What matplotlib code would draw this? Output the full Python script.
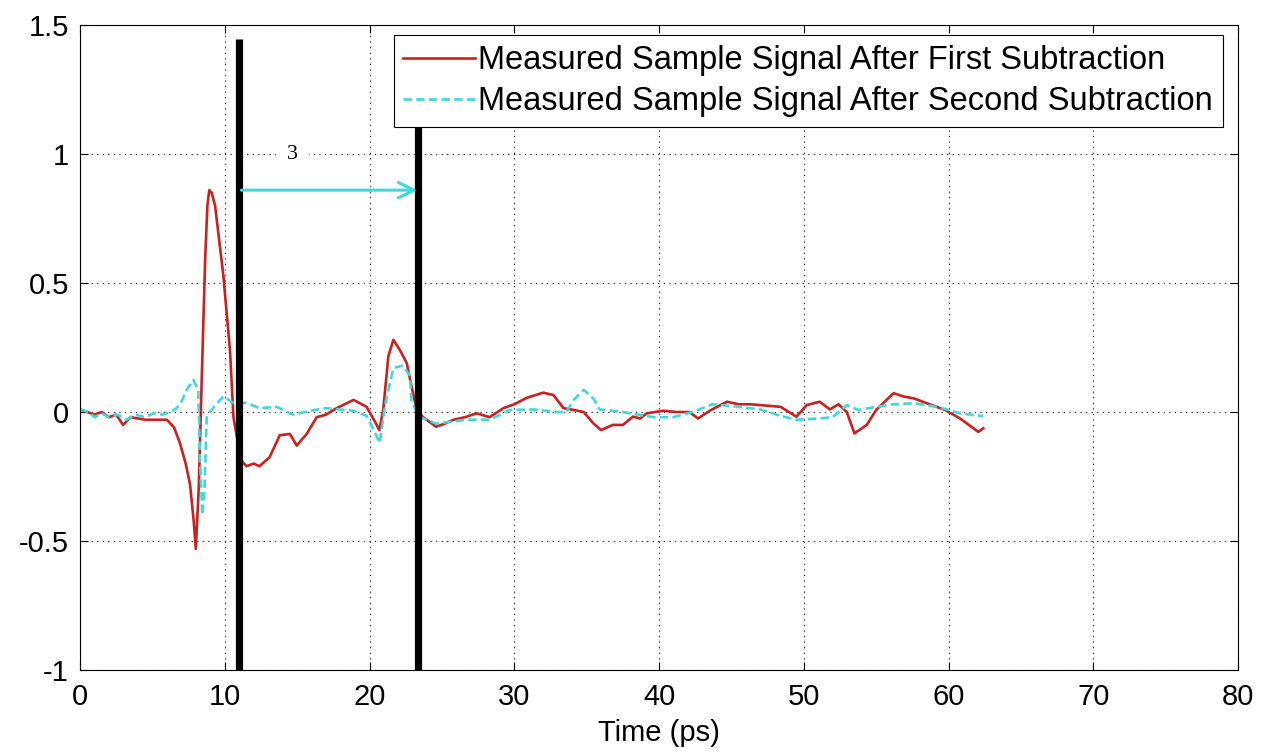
import numpy as np
import matplotlib
matplotlib.use("Agg")
import matplotlib.pyplot as plt

plt.rc("font", family=["Liberation Sans", "DejaVu Sans"], size=21)

# red: sample signal after first subtraction
t_first = [0, 0.5, 1.0, 1.5, 2.0, 2.5, 2.97, 3.5, 4.5, 6.0, 6.5, 6.9, 7.3, 7.6, 7.85, 8.0, 8.2, 8.4, 8.65, 8.8,
           8.93, 9.1, 9.33, 9.9, 10.36, 10.6, 10.85, 11.17, 11.5, 12.0, 12.4, 13.1, 13.8, 14.5, 14.97, 15.66,
           16.35, 17.0, 17.73, 18.9, 19.8, 20.4, 20.68, 20.95, 21.3, 21.65, 22.1, 22.57, 22.9, 23.26, 23.7,
           24.6, 25.2, 25.8, 26.6, 27.4, 28.3, 29.25, 30.0, 30.86, 32.0, 32.7, 33.4, 34.1, 34.8, 35.46, 36.0,
           36.8, 37.5, 38.2, 38.7, 39.15, 40.3, 41.2, 42.1, 42.7, 43.5, 44.7, 45.5, 46.3, 47.4, 48.4,
           49.5, 50.2, 51.1, 51.8, 52.4, 52.97, 53.5, 54.35, 55.0, 56.2, 56.9, 57.6, 58.5, 59.76,
           60.8, 62.06, 62.4]
y_first = [0.01, 0.0, -0.01, 0.0, -0.02, -0.01, -0.05, -0.02, -0.03, -0.03, -0.06, -0.12, -0.2, -0.28, -0.42, -0.53,
           -0.3, 0.11, 0.6, 0.8, 0.86, 0.85, 0.8, 0.53, 0.24, -0.02, -0.1, -0.19, -0.21, -0.2, -0.21, -0.175,
           -0.09, -0.085, -0.13, -0.085, -0.02, -0.01, 0.015, 0.047, 0.02, -0.04, -0.07, 0.01, 0.216, 0.28, 0.24,
           0.19, 0.1, 0.01, -0.02, -0.057, -0.045, -0.03, -0.02, -0.005, -0.02, 0.015, 0.03, 0.055, 0.075, 0.066,
           0.015, 0.008, 0.0, -0.044, -0.07, -0.05, -0.05, -0.018, -0.025, -0.005, 0.005, 0.0, 0.0, -0.025, 0.005,
           0.04, 0.03, 0.03, 0.025, 0.02, -0.018, 0.027, 0.04, 0.01, 0.03, 0.0, -0.083, -0.05, 0.008, 0.073,
           0.06, 0.053, 0.034, 0.008, -0.025, -0.077, -0.063]

# cyan: sample signal after second subtraction
t_second = [0, 0.6, 1.0, 1.5, 2.0, 2.6, 3.2, 3.8, 4.5, 5.1, 5.7, 6.2, 6.68, 7.0, 7.37, 7.83, 8.17, 8.3, 8.45,
            8.6, 8.75, 8.98, 9.4, 9.9, 10.6, 11.5, 12.4, 13.6, 14.7, 15.9, 17.0, 18.9, 19.8, 20.3, 20.7, 21.1,
            21.65, 22.3, 22.8, 22.9, 23.5, 24.6, 26.7, 28.3, 29.7, 31.3, 32.9, 33.6, 34.1, 34.8, 35.5, 35.9,
            37.5, 39.6, 41.0, 42.3, 43.7, 45.5, 47.0, 48.4, 49.5, 51.1, 52.0, 52.97, 53.8, 55.0, 56.2,
            57.6, 58.7, 59.76, 60.8, 62.2, 62.4]
y_second = [0.01, 0.0, -0.02, -0.005, -0.02, -0.01, -0.03, -0.01, -0.02, -0.005, -0.01, 0.0, 0.015, 0.04, 0.086,
            0.125, 0.086, -0.2, -0.4, -0.3, -0.02, 0.0, 0.03, 0.06, 0.035, 0.035, 0.015, 0.02, -0.01, 0.005,
            0.015, 0.005, -0.015, -0.07, -0.12, 0.035, 0.17, 0.18, 0.14, 0.04, -0.02, -0.045, -0.03, -0.03,
            0.008, 0.01, 0.0, 0.0, 0.047, 0.086, 0.05, 0.01, 0.0, -0.02, -0.02, 0.0, 0.03, 0.02, 0.01, -0.015,
            -0.03, -0.025, -0.02, 0.027, 0.008, 0.02, 0.03, 0.034, 0.025, 0.012, -0.005, -0.015, -0.015]

marker_times = [11.0, 23.35]
arrow_y = 0.86
arrow_label = "3"

fig = plt.figure(figsize=(12.62, 7.54), dpi=100)
ax = fig.add_axes([0.0634, 0.1114, 0.9176, 0.8554])

ax.plot(t_first, y_first, color="#cc1f1f", lw=1.9,
        label="Measured Sample Signal After First Subtraction")
ax.plot(t_second, y_second, color="#3ddada", lw=1.9, ls=(0, (3.2, 1.6)),
        label="Measured Sample Signal After Second Subtraction")

for xt in marker_times:
    ax.plot([xt, xt], [-1, 1.445], color="black", lw=5.2, solid_capstyle="butt")

ax.annotate("", xy=(marker_times[1] - 0.05, arrow_y), xytext=(marker_times[0] + 0.15, arrow_y),
            arrowprops=dict(arrowstyle="->", color="#3ddada", lw=2.2, mutation_scale=28,
                            shrinkA=0, shrinkB=0))
ax.text(14.7, 1.0, arrow_label, family="Liberation Serif", fontsize=16, ha="center", va="center",
        bbox=dict(facecolor="white", edgecolor="none", pad=8))

ax.set_xlim(0, 80)
ax.set_ylim(-1, 1.5)
ax.set_xticks(np.arange(0, 81, 10))
ax.set_yticks([-1, -0.5, 0, 0.5, 1, 1.5])
ax.set_yticklabels(["-1", "-0.5", "0", "0.5", "1", "1.5"])
ax.grid(True, color="black", ls=(0, (1, 4)), lw=0.8)
ax.tick_params(axis="both", direction="in", which="both", right=True, top=True, width=0.8, length=6)
ax.tick_params(axis="x", pad=9)
ax.tick_params(axis="y", pad=8)
for sp in ax.spines.values():
    sp.set_linewidth(0.8)
ax.set_xlabel("Time (ps)", labelpad=6)

leg = ax.legend(loc="upper right", fancybox=False, edgecolor="black", framealpha=1, fontsize=23.5,
                handlelength=2.2, handletextpad=0.1, borderpad=0.3, labelspacing=0.3,
                borderaxespad=0, bbox_to_anchor=(0.987, 0.984))
leg.get_frame().set_linewidth(0.8)
leg.set_zorder(10)

plt.savefig("out.png", dpi=100)
